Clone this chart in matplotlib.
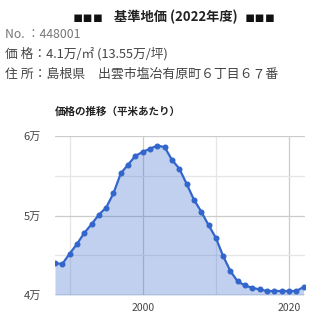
import numpy as np
import matplotlib.pyplot as plt
from matplotlib.ticker import FuncFormatter, MultipleLocator

plt.rcParams['font.family'] = ['Noto Sans CJK JP', 'DejaVu Sans']

# 価格の推移 (円/㎡)
years = list(range(1988, 2023))
prices = [
    44000, 43900, 45200, 46400, 47800, 48900, 50100, 51000, 52800, 55300,
    56400, 57500, 58000, 58400, 58800, 58600, 57000, 55900, 54000, 52000,
    50500, 48800, 47200, 44900, 43000, 41700, 41200, 40900, 40700, 40500,
    40500, 40500, 40500, 40500, 41000,
]
y_ticks = [40000, 50000, 60000]
x_ticks = [2000, 2020]

title = "基準地価 (2022年度)"
info_no = "No. ：448001"
info_price = "価 格：4.1万/㎡ (13.55万/坪)"
info_addr = "住 所：島根県　出雲市塩冶有原町６丁目６７番"
chart_title = "価格の推移（平米あたり）"

line_col = "#3366cc"

fig = plt.figure(figsize=(3.3, 3.22), dpi=100)

# ヘッダー
fig.text(88 / 330, 1 - 17 / 322, "▪▪▪", fontsize=11, ha="center", va="center",
         color="#111111", family=["DejaVu Sans"])
fig.text(176 / 330, 1 - 17 / 322, title, fontsize=9.5, ha="center", va="center",
         fontweight="bold", color="#222222")
fig.text(260 / 330, 1 - 17 / 322, "▪▪▪", fontsize=11, ha="center", va="center",
         color="#111111", family=["DejaVu Sans"])
fig.text(5 / 330, 1 - 35 / 322, info_no, fontsize=8.8, ha="left", va="center", color="#777777")
fig.text(5 / 330, 1 - 54 / 322, info_price, fontsize=9.2, ha="left", va="center", color="#444444")
fig.text(5 / 330, 1 - 74 / 322, info_addr, fontsize=9.3, ha="left", va="center", color="#444444")
fig.text(55 / 330, 1 - 112 / 322, chart_title, fontsize=7.6, ha="left", va="center",
         fontweight="bold", color="#222222")

ax = fig.add_axes([55 / 330, 1 - 295 / 322, 250 / 330, 159 / 322])

ax.fill_between(years, 40000, prices, color=line_col, alpha=0.3, linewidth=0, zorder=3)
ax.plot(years, prices, color=line_col, linewidth=1.6, marker="o", markersize=3.3, zorder=4)

ax.set_xlim(1988, 2022.2)
ax.set_ylim(40000, 60000)

ax.set_yticks(y_ticks)
ax.yaxis.set_minor_locator(MultipleLocator(5000))
ax.yaxis.set_major_formatter(FuncFormatter(lambda v, p: f"{int(v / 10000)}万"))
ax.set_xticks(x_ticks)
ax.xaxis.set_minor_locator(MultipleLocator(10))

ax.grid(True, which="major", axis="both", color="#cccccc", linewidth=0.9, zorder=1)
ax.grid(True, which="minor", axis="both", color="#e6e6e6", linewidth=0.9, zorder=1)
ax.axhline(40000, color="#999999", linewidth=1, zorder=2)

ax.tick_params(which="both", length=0)
ax.tick_params(axis="y", pad=10, labelsize=8, labelcolor="#444444")
ax.tick_params(axis="x", pad=6, labelsize=7.5, labelcolor="#444444")
for s in ax.spines.values():
    s.set_visible(False)

fig.savefig("out.png", dpi=100)
